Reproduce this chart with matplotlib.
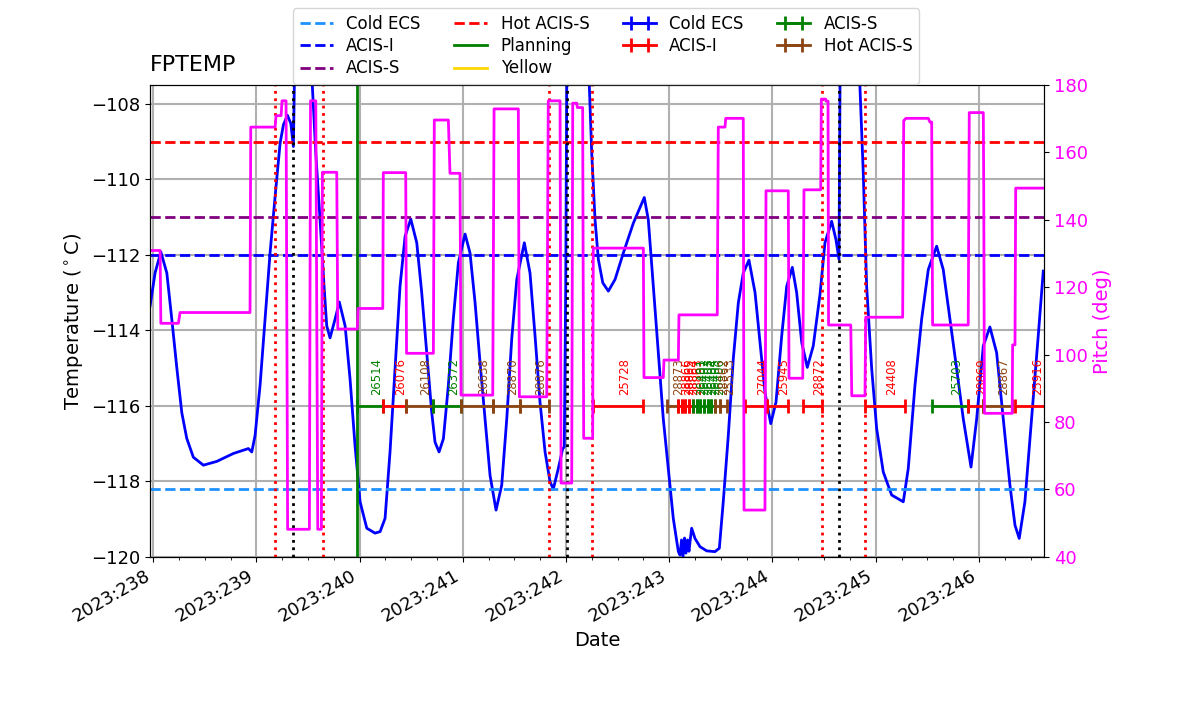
import numpy as np
import matplotlib
matplotlib.use("Agg")
import matplotlib.pyplot as plt
from matplotlib.ticker import FixedLocator, MultipleLocator, FuncFormatter

# FPTEMP model, time in day-of-year 2023
temp_days = [237.971, 238.019, 238.075, 238.133, 238.181, 238.230, 238.278, 238.326, 238.390, 238.487,
             238.617, 238.778, 238.923, 238.956, 238.988, 239.036, 239.085, 239.133, 239.182, 239.230,
             239.262, 239.301, 239.334, 239.359, 239.368, 239.379, 239.453, 239.530, 239.543, 239.576,
             239.617, 239.656, 239.682, 239.714, 239.763, 239.804, 239.860, 239.908, 239.956, 240.005,
             240.070, 240.150, 240.199, 240.247, 240.295, 240.344, 240.392, 240.441, 240.496, 240.554,
             240.602, 240.651, 240.699, 240.731, 240.770, 240.812, 240.860, 240.908, 240.957, 241.022,
             241.070, 241.119, 241.167, 241.215, 241.264, 241.322, 241.377, 241.426, 241.474, 241.523,
             241.596, 241.651, 241.700, 241.748, 241.797, 241.845, 241.877, 241.925, 241.968, 241.983,
             241.997, 242.007, 242.014, 242.116, 242.213, 242.226, 242.249, 242.281, 242.313, 242.356,
             242.410, 242.475, 242.555, 242.652, 242.758, 242.797, 242.846, 242.894, 242.942, 242.991,
             243.039, 243.088, 243.104, 243.119, 243.133, 243.148, 243.162, 243.177, 243.191, 243.201,
             243.217, 243.249, 243.298, 243.363, 243.443, 243.485, 243.523, 243.572, 243.620, 243.669,
             243.717, 243.772, 243.831, 243.879, 243.927, 243.983, 244.034, 244.089, 244.138, 244.192,
             244.234, 244.283, 244.337, 244.395, 244.460, 244.508, 244.573, 244.615, 244.644, 244.654,
             244.700, 244.800, 244.847, 244.879, 244.912, 244.961, 245.009, 245.073, 245.154, 245.267,
             245.315, 245.380, 245.445, 245.509, 245.590, 245.654, 245.719, 245.784, 245.848, 245.923,
             245.978, 246.042, 246.106, 246.171, 246.235, 246.300, 246.349, 246.390, 246.445, 246.510,
             246.574, 246.623]
temp_vals = [-113.35, -112.48, -111.92, -112.48, -113.7, -115.0, -116.18, -116.86, -117.36, -117.57,
             -117.47, -117.26, -117.13, -117.22, -116.78, -115.46, -113.7, -111.95, -110.45, -109.05,
             -108.56, -108.30, -108.52, -109.13, -107.55, -106.5, -102.0, -106.5, -107.55, -109.31,
             -111.06, -112.83, -113.88, -114.2, -113.7, -113.25, -113.88, -115.29, -117.05, -118.54,
             -119.24, -119.37, -119.33, -118.98, -117.22, -115.02, -112.83, -111.51, -111.05, -111.68,
             -113.0, -114.59, -116.17, -116.96, -117.22, -116.87, -115.46, -113.7, -112.21, -111.45,
             -111.95, -113.27, -114.85, -116.34, -117.84, -118.76, -118.1, -116.34, -114.23, -112.65,
             -111.68, -112.48, -114.15, -115.9, -117.22, -118.01, -118.2, -117.66, -117.13, -117.09,
             -112.83, -107.55, -106.0, -100.0, -106.0, -107.55, -109.31, -111.07, -112.12, -112.74,
             -112.96, -112.65, -111.95, -111.16, -110.48, -111.07, -112.83, -114.59, -116.34, -117.66,
             -118.98, -119.86, -119.95, -119.55, -120.0, -119.5, -119.9, -119.55, -119.85, -119.6,
             -119.24, -119.51, -119.73, -119.84, -119.86, -119.77, -118.54, -116.78, -114.76, -113.27,
             -112.48, -112.14, -113.0, -114.32, -115.64, -116.47, -115.9, -114.15, -112.83, -112.33,
             -113.0, -114.32, -114.98, -114.41, -113.05, -111.68, -111.11, -111.6, -112.12, -107.55,
             -102.0, -102.0, -107.55, -109.81, -112.83, -115.02, -116.6, -117.75, -118.36, -118.54,
             -117.66, -115.46, -113.7, -112.39, -111.77, -112.39, -113.7, -115.02, -116.34, -117.62,
             -116.34, -114.41, -113.91, -114.59, -116.34, -118.1, -119.16, -119.51, -118.54, -116.34,
             -114.15, -112.43]

# pitch (deg), corners of the attitude profile
pitch_days = [237.971, 238.068, 238.075, 238.245, 238.261, 238.939, 238.946, 239.182, 239.191, 239.240,
              239.249, 239.288, 239.303, 239.514, 239.525, 239.576, 239.595, 239.630, 239.640, 239.779,
              239.789, 239.978, 239.985, 240.225, 240.230, 240.447, 240.455, 240.715, 240.724, 240.860,
              240.876, 240.973, 240.983, 241.290, 241.303, 241.538, 241.548, 241.813, 241.828, 241.942,
              241.952, 242.055, 242.065, 242.104, 242.110, 242.161, 242.171, 242.258, 242.264, 242.749,
              242.755, 242.942, 242.949, 243.088, 243.094, 243.465, 243.475, 243.540, 243.547, 243.717,
              243.724, 243.927, 243.937, 244.153, 244.160, 244.293, 244.305, 244.467, 244.473, 244.515,
              244.518, 244.538, 244.543, 244.758, 244.768, 244.896, 244.903, 245.261, 245.271, 245.293,
              245.509, 245.525, 245.542, 245.551, 245.896, 245.906, 246.042, 246.046, 246.053, 246.322,
              246.326, 246.349, 246.356, 246.630]
pitch_vals = [130.9, 130.9, 109.3, 109.3, 112.5, 112.5, 167.5, 167.5, 170.9, 170.9,
              175.3, 175.3, 48.2, 48.2, 175.3, 175.3, 48.2, 48.2, 154.1, 154.1,
              107.6, 107.6, 113.7, 113.7, 154.0, 154.0, 100.4, 100.4, 169.6, 169.6,
              153.8, 153.8, 88.0, 88.0, 172.9, 172.9, 87.5, 87.5, 175.3, 175.3,
              61.9, 61.9, 174.6, 174.6, 173.3, 173.3, 75.2, 75.2, 131.6, 131.6,
              93.2, 93.2, 98.4, 98.4, 111.8, 111.8, 167.5, 167.5, 170.1, 170.1,
              53.9, 53.9, 148.6, 148.6, 93.0, 93.0, 148.9, 148.9, 175.8, 175.8,
              175.2, 175.2, 108.8, 108.8, 87.8, 87.8, 111.1, 111.1, 169.4, 170.1,
              170.1, 169.0, 169.0, 108.8, 108.8, 171.8, 171.8, 150.3, 82.6, 82.6,
              102.9, 102.9, 149.4, 149.4]

# limit lines
limit_names = ["Cold ECS", "ACIS-I", "ACIS-S", "Hot ACIS-S", "Planning", "Yellow"]
limit_vals = [-118.2, -112.0, -111.0, -109.0, -84.0, -79.0]
limit_colors = ["dodgerblue", "blue", "purple", "red", "green", "gold"]
limit_styles = ["--", "--", "--", "--", "-", "-"]

# radiation zone edges, perigee, load start
rad_days = [239.182, 239.647, 241.835, 242.256, 244.479, 244.896]
perigee_days = [239.359, 242.007, 244.644]
load_start = 239.971

# observations
obs_start = [239.976, 240.228, 240.450, 240.712, 240.983, 241.293, 241.554, 242.261, 242.978, 243.085,
             243.121, 243.157, 243.194, 243.230, 243.266, 243.301, 243.337, 243.372, 243.408, 243.443,
             243.490, 243.734, 243.947, 244.295, 244.896, 245.545, 245.893, 246.039, 246.349]
obs_stop = [240.228, 240.450, 240.712, 240.983, 241.293, 241.554, 241.835, 242.746, 243.085, 243.121,
            243.157, 243.194, 243.230, 243.266, 243.301, 243.337, 243.372, 243.408, 243.443, 243.490,
            243.559, 243.947, 244.150, 244.479, 245.283, 245.893, 246.039, 246.320, 246.660]
obs_kind = ["ACIS-S", "ACIS-I", "Hot ACIS-S", "ACIS-S", "Hot ACIS-S", "Hot ACIS-S", "Hot ACIS-S",
            "ACIS-I", "Hot ACIS-S", "ACIS-I", "ACIS-I", "ACIS-I", "ACIS-I", "ACIS-S", "ACIS-S",
            "ACIS-S", "ACIS-S", "ACIS-S", "ACIS-S", "Hot ACIS-S", "Hot ACIS-S", "ACIS-I", "ACIS-I",
            "ACIS-I", "ACIS-I", "ACIS-S", "ACIS-I", "Hot ACIS-S", "ACIS-I"]
obs_ids = ["26514", "26076", "26108", "26372", "26638", "28870", "28876", "25728", "28873", "28866",
           "28865", "28864", "28863", "26401", "26402", "26403", "26404", "26405", "26406", "28862",
           "25533", "27044", "25945", "28872", "24408", "25703", "28869", "28867", "25916"]

kind_names = ["Cold ECS", "ACIS-I", "ACIS-S", "Hot ACIS-S"]
kind_colors = {"Cold ECS": "blue", "ACIS-I": "red", "ACIS-S": "green", "Hot ACIS-S": "saddlebrown"}
obs_y = -116.0

fig = plt.figure(figsize=(12, 7.14), dpi=100)
ax1 = fig.add_subplot(111)
fig.subplots_adjust(left=0.125, right=0.87, bottom=0.22, top=0.881)

ax1.plot(temp_days, temp_vals, color="blue", lw=2)

handles = []
for name, val, c, ls in zip(limit_names, limit_vals, limit_colors, limit_styles):
    h = ax1.axhline(val, color=c, ls=ls, lw=2, label=name)
    handles.append(h)

for d in rad_days:
    ax1.axvline(d, color="red", ls=":", lw=2)
for d in perigee_days:
    ax1.axvline(d, color="black", ls=":", lw=2)
ax1.axvline(load_start, color="green", ls="-", lw=2)

# legend entries for the observation types
for k in kind_names:
    eb = ax1.errorbar([np.nan], [np.nan], xerr=[0.1], color=kind_colors[k], lw=2,
                      capsize=5, capthick=2, label=k)
    handles.append(eb)

for t0, t1, k, oid in zip(obs_start, obs_stop, obs_kind, obs_ids):
    c = kind_colors[k]
    mid = 0.5 * (t0 + t1)
    ax1.errorbar([mid], [obs_y], xerr=[0.5 * (t1 - t0)], color=c, lw=2,
                 capsize=5, capthick=2)
    ax1.text(mid, obs_y + 0.28, oid, rotation=90, color=c, fontsize=8.33,
             ha="left", va="bottom", clip_on=True)

ax1.set_xlim(237.97, 246.63)
ax1.set_ylim(-120, -107.5)
ax1.set_yticks(np.arange(-120, -107, 2))
ax1.xaxis.set_major_locator(FixedLocator(np.arange(238, 247)))
ax1.xaxis.set_minor_locator(MultipleLocator(0.25))
ax1.xaxis.set_major_formatter(FuncFormatter(lambda v, p: "2023:%d" % int(round(v))))
for lab in ax1.get_xticklabels():
    lab.set_rotation(30)
    lab.set_ha("right")
ax1.tick_params(labelsize=13)
ax1.grid(True, color="#b0b0b0", lw=1.5)
ax1.set_xlabel("Date", fontsize=14)
ax1.set_ylabel(r"Temperature ($^\circ$C)", fontsize=14)
ax1.set_title("FPTEMP", loc="left", fontsize=16, pad=10)

ax2 = ax1.twinx()
ax2.plot(pitch_days, pitch_vals, color="magenta", lw=2)
ax2.set_ylim(40, 180)
ax2.set_yticks(np.arange(40, 181, 20))
ax2.tick_params(labelsize=13, labelcolor="magenta")
ax2.set_ylabel("Pitch (deg)", color="magenta", fontsize=14)

labels = limit_names + kind_names
fig.legend(handles, labels, ncol=4, loc="upper center", bbox_to_anchor=(0.505, 1.0),
           fontsize=12, labelspacing=0.25)

fig.savefig("out.png", dpi=100)
